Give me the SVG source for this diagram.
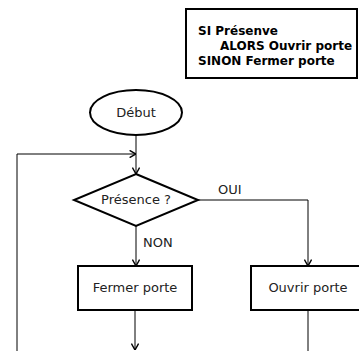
<svg xmlns="http://www.w3.org/2000/svg" width="359" height="351" viewBox="0 0 359 351">
<style>
.shape{fill:#fff;stroke:#000;stroke-width:2}
.conn{fill:none;stroke:#000;stroke-width:1}
.t{font-family:"DejaVu Sans",sans-serif;font-size:13px;fill:#222;text-anchor:middle}
.l{font-family:"DejaVu Sans",sans-serif;font-size:13px;fill:#222}
.b{font-family:"DejaVu Sans",sans-serif;font-size:12px;font-weight:bold;fill:#000}
</style>
<defs>
<marker id="arr" viewBox="0 0 10 10" refX="10" refY="5" markerWidth="8" markerHeight="8" markerUnits="userSpaceOnUse" orient="auto">
<path d="M2,0.5 L10,5 L2,9.5" fill="none" stroke="#000" stroke-width="1.8"/>
</marker>
</defs>
<rect width="359" height="351" fill="#fff"/>
<g id="note">
<rect class="shape" x="186" y="9" width="171" height="69"/>
<text class="b" x="198" y="35">SI Présenve</text>
<text class="b" x="220" y="50">ALORS Ouvrir porte</text>
<text class="b" x="198" y="65">SINON Fermer porte</text>
</g>
<g id="connectors">
<path class="conn" d="M136,135 L136,174" marker-end="url(#arr)"/>
<path class="conn" d="M17,351 L17,154 L136,154" marker-end="url(#arr)"/>
<path class="conn" d="M136,226 L136,266" marker-end="url(#arr)"/>
<path class="conn" d="M198,200 L308,200 L308,266" marker-end="url(#arr)"/>
<path class="conn" d="M135,310 L135,350" marker-end="url(#arr)"/>
<path class="conn" d="M308,310 L308,351"/>
<text class="l" x="218" y="194">OUI</text>
<text class="l" x="143" y="247">NON</text>
</g>
<g id="debut">
<ellipse class="shape" cx="136" cy="112.5" rx="46" ry="22.5"/>
<text class="t" x="136" y="117">Début</text>
</g>
<g id="presence">
<polygon class="shape" points="136,174 198,200 136,226 74,200"/>
<text class="t" x="136" y="204">Présence ?</text>
</g>
<g id="fermer">
<rect class="shape" x="78" y="266" width="114" height="44"/>
<text class="t" x="135" y="292">Fermer porte</text>
</g>
<g id="ouvrir">
<rect class="shape" x="251" y="266" width="114" height="44"/>
<text class="t" x="308" y="292">Ouvrir porte</text>
</g>
</svg>
